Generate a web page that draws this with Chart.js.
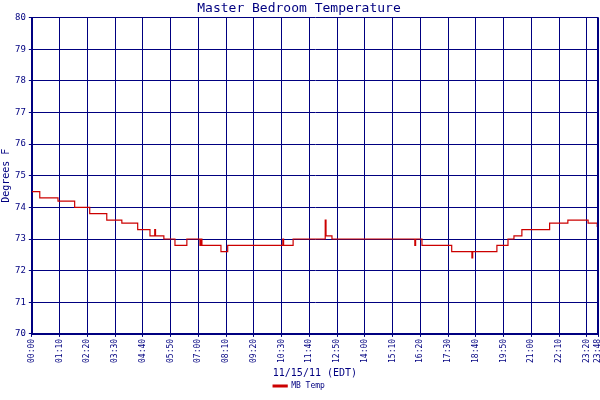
<!DOCTYPE html>
<html><head><meta charset="utf-8">
<script src="https://cdn.jsdelivr.net/npm/chart.js@4/dist/chart.umd.min.js"></script>
<style>html,body{margin:0;background:#fff}#wrap{width:600px;height:400px}</style>
</head><body><div id="wrap"><canvas id="c"></canvas></div>
<script>
// minutes since midnight and temperature (stepped)
const minutes = [0, 20, 66, 108, 146, 189, 227, 267, 298, 310, 312, 314, 333, 361, 391, 424, 426, 429, 477, 494,
  633, 635, 659, 737, 740, 742, 757, 966, 968, 970, 984, 1059, 1110, 1112, 1115, 1173, 1201, 1216, 1236, 1306, 1352, 1403, 1426, 1428];
const temps = [74.5, 74.3, 74.2, 74.0, 73.8, 73.6, 73.5, 73.3, 73.1, 73.3, 73.1, 73.1, 73.0, 72.8, 73.0, 72.8, 73.0, 72.8, 72.6, 72.8,
  73.0, 72.8, 73.0, 73.0, 73.6, 73.1, 73.0, 72.8, 73.0, 73.0, 72.8, 72.6, 72.4, 72.6, 72.6, 72.8, 73.0, 73.1, 73.3, 73.5, 73.6, 73.5, 73.4, 73.4];
const xTicks = [0, 70, 140, 210, 280, 350, 420, 490, 560, 630, 700, 770, 840, 910, 980, 1050, 1120, 1190, 1260, 1330, 1400, 1428];
const seriesName = 'MB Temp';

const NAVY = '#000080';
const fmtTime = (m) => String(Math.floor(m / 60)).padStart(2, '0') + ':' + String(m % 60).padStart(2, '0');
const font = { family: 'DejaVu Sans Mono', size: 10 };

new Chart(document.getElementById('c'), {
  type: 'line',
  data: { datasets: [{
    label: seriesName,
    data: minutes.map((m, i) => ({ x: m, y: temps[i] })),
    stepped: true, borderColor: '#cc0000', backgroundColor: '#cc0000',
    borderWidth: 1.2, pointRadius: 0
  }] },
  options: {
    responsive: true, maintainAspectRatio: false, animation: false,
    layout: { padding: { left: 0, right: 2, top: 0, bottom: 0 } },
    plugins: {
      title: { display: true, text: 'Master Bedroom Temperature', color: NAVY,
        font: { family: 'DejaVu Sans Mono', size: 13, weight: 'normal' }, padding: { top: 1, bottom: 1 } },
      legend: { position: 'bottom', labels: { color: NAVY, font: { family: 'DejaVu Sans Mono', size: 8 },
        boxWidth: 14, boxHeight: 2, padding: 3 } },
      tooltip: { enabled: false }
    },
    scales: {
      x: {
        type: 'linear', min: 0, max: 1428,
        afterBuildTicks: (s) => { s.ticks = xTicks.map((v) => ({ value: v })); },
        afterFit: (s) => { s.paddingRight = 0; s.paddingLeft = 0; },
        ticks: { color: NAVY, font: { family: 'DejaVu Sans Mono', size: 8 }, maxRotation: 90, minRotation: 90,
          autoSkip: false, callback: (v) => fmtTime(v), padding: 2 },
        grid: { color: NAVY, lineWidth: 1, drawTicks: true, tickLength: 3 },
        border: { color: NAVY, width: 2 },
        title: { display: true, text: '11/15/11 (EDT)', color: NAVY, font, padding: { top: 2, bottom: 0 } }
      },
      y: {
        min: 70, max: 80,
        ticks: { stepSize: 1, color: NAVY, font: { family: 'DejaVu Sans Mono', size: 9 }, padding: 3 },
        grid: { color: NAVY, lineWidth: 1, tickLength: 3 },
        border: { color: NAVY, width: 2 },
        title: { display: true, text: 'Degrees F', color: NAVY, font, padding: 0 }
      }
    }
  },
  plugins: [{
    id: 'rightEdge',
    afterDraw(ch) {
      const a = ch.chartArea, c = ch.ctx;
      c.save(); c.strokeStyle = NAVY; c.lineWidth = 2;
      c.beginPath(); c.moveTo(a.right, a.top); c.lineTo(a.right, a.bottom); c.stroke(); c.restore();
    }
  }]
});
</script></body></html>
